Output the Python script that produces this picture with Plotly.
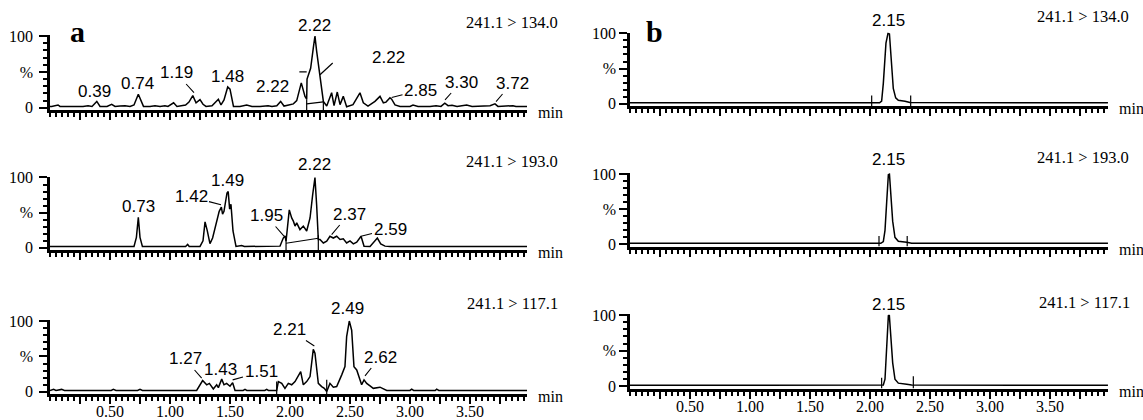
import plotly.graph_objects as go

W, H = 1143, 420
PX_PER_MIN = 120.0

# ---------------- data ----------------
# Panel a, 241.1 > 134.0
a1_t = [0.0,0.014,0.067,0.083,0.275,0.317,0.35,0.39,0.417,0.475,
        0.514,0.542,0.583,0.625,0.667,0.7,0.736,0.758,0.779,0.833,
        0.875,0.917,0.958,0.983,1.03,1.058,1.09,1.13,1.158,1.19,
        1.217,1.25,1.275,1.3,1.35,1.375,1.403,1.425,1.45,1.481,
        1.5,1.529,1.583,1.639,1.683,1.75,1.817,1.85,1.89,1.922,
        1.95,1.99,2.028,2.056,2.094,2.125,2.139,2.142,2.172,2.194,
        2.208,2.222,2.236,2.244,2.258,2.278,2.306,2.347,2.367,2.394,
        2.417,2.444,2.472,2.525,2.583,2.611,2.65,2.708,2.75,2.778,
        2.8,2.833,2.847,2.875,2.917,3.0,3.025,3.067,3.167,3.217,
        3.258,3.29,3.317,3.35,3.392,3.472,3.517,3.625,3.667,3.708,
        3.733,3.858,3.883,3.975]
a1_v = [2,2,4,2,2,3,2,9,2,2,
        5,2,2.5,3,2,4,19,10,2,2,
        3,2,3,2,7,2,3,4,8,17,
        7,11.5,5,2,3,7,12,4,11,29,
        26,2,2,4,2,2,3,2,3,9,
        2.5,4,5.5,10,34.7,16,12,40,55,83,
        100,79,60,48,28,9,2.5,21,3,22,
        4.5,16,1.5,4.5,21,7,2.5,9,16,7,
        8,14,12,4,2,2,4,2,2,3,
        2,6.5,3,3.5,2,4,2,2,3,5.5,
        2,3,2,2]

# Panel a, 241.1 > 193.0
a2_t = [0.0,0.1,0.13,0.16,0.42,0.45,0.5,0.55,0.58,0.7,
        0.72,0.736,0.75,0.77,1.13,1.147,1.16,1.25,1.275,1.292,
        1.31,1.333,1.355,1.39,1.41,1.428,1.438,1.45,1.475,1.485,
        1.497,1.508,1.525,1.55,1.597,1.62,1.917,1.944,1.958,1.967,
        1.994,2.014,2.028,2.042,2.056,2.083,2.111,2.139,2.167,2.189,
        2.208,2.222,2.236,2.25,2.278,2.306,2.333,2.361,2.389,2.417,
        2.444,2.472,2.5,2.528,2.556,2.592,2.617,2.667,2.728,2.756,
        2.792,2.833,3.975]
a2_v = [2,2,1,2,2,1,2,1,2,2,
        15,43.5,15,2,2,5,2,2,10,37,
        25,6,14,38,52,58,48,52,78,80,
        55,62,24,2,3.5,2,2.5,14,17,9.5,
        54,42.5,38,31,35.5,26,31,24,42.5,75.6,
        100,61,12,12,7,9.5,16.5,14,16.5,12,
        13,7,10,5.7,8,16.5,2.4,2,14,5.7,
        2.5,2,2]

# Panel a, 241.1 > 117.1
a3_t = [0.0,0.03,0.05,0.097,0.12,0.51,0.528,0.55,0.73,0.75,
        0.77,0.93,0.944,0.96,1.222,1.272,1.306,1.328,1.361,1.389,
        1.403,1.431,1.45,1.472,1.5,1.522,1.542,1.61,1.625,1.64,
        1.79,1.806,1.82,1.889,1.903,1.931,1.958,1.986,2.014,2.042,
        2.069,2.089,2.111,2.139,2.167,2.194,2.208,2.236,2.264,2.286,
        2.306,2.333,2.361,2.389,2.431,2.458,2.472,2.494,2.514,2.533,
        2.556,2.578,2.597,2.617,2.639,2.667,2.694,2.75,2.778,2.806,
        3.0,3.014,3.03,3.21,3.222,3.24,3.975]
a3_v = [2,3.5,2,3.5,2,2,3.5,2,2,3.5,
        2,2,3,2,2,16,10,12,4,10,
        6,18,10,12,8,13,2,2,3.5,2,
        2,3.5,2,2,14.5,12,5,12,10,14.5,
        21.6,28.6,10,14.5,21.6,60,54.5,12,7.5,5,
        0.5,12,6.6,7.5,24,35.6,78,100,87,35.6,
        31,19,10,17,12,8.5,5,6.6,3.8,2,
        2,3.8,2,2,3.8,2,2]

# Panel b (three transitions)
b1_t = [0.0,2.08,2.097,2.111,2.133,2.15,2.162,2.172,2.183,2.194,2.214,2.236,2.292,2.333,3.983]
b1_v = [1.5,1.5,4,29,86,100,99,76,48,22,8.5,5,3.7,2,1.5]
b2_t = [0.0,2.09,2.111,2.125,2.139,2.153,2.162,2.172,2.189,2.208,2.236,2.306,2.347,3.983]
b2_v = [1.5,1.5,4,20,60,99,100,78,33,10,4.5,3,1.8,1.5]
b3_t = [0.0,2.1,2.111,2.125,2.139,2.153,2.161,2.172,2.189,2.208,2.236,2.306,2.347,3.983]
b3_v = [1.5,1.5,1.8,10,55.6,99,100,78,33,10,4.5,3,1.8,1.5]

# integration marks (drop lines / baselines), None separates segments
a1_mark_t = [2.139,2.139,None,2.278,2.278,None,2.139,2.278,None,2.078,2.139,None,2.25,2.356]
a1_mark_v = [-3,12,None,-3,9,None,5.5,8.3,None,50,50,None,46,62.5]
a2_mark_t = [1.967,1.967,None,2.236,2.236,None,1.967,2.236]
a2_mark_v = [-3,16,None,-3,18,None,6.6,13.7]
a3_mark_t = [1.889,1.889,None,2.306,2.306]
a3_mark_v = [-3,14.5,None,-3,17]
b1_mark_t = [2.014,2.014,None,2.339,2.339]
b1_mark_v = [-3,12,None,-3,12]
b2_mark_t = [2.075,2.075,None,2.31,2.31]
b2_mark_v = [-3,12,None,-3,12]
b3_mark_t = [2.097,2.097,None,2.361,2.361]
b3_mark_v = [-3,12,None,-3,14]

# peak labels: text, peak time, peak intensity, has leader line
a1_lab_text = ["0.39","0.74","1.19","1.48","2.22","2.22","2.22","2.85","3.30","3.72"]
a1_lab_t = [0.39,0.736,1.2,1.481,2.094,2.208,2.208,2.847,3.292,3.717]
a1_lab_v = [9,19,21.3,29,34.7,100,100,14.3,11.1,8.75]
a1_lab_lead = [0,0,1,0,0,0,0,1,1,1]

a2_lab_text = ["0.73","1.42","1.49","1.95","2.22","2.37","2.59"]
a2_lab_t = [0.736,1.425,1.485,1.95,2.208,2.347,2.592]
a2_lab_v = [43.5,61.4,80,16.6,100,18.9,16.6]
a2_lab_lead = [0,1,0,1,0,1,1]

a3_lab_text = ["1.27","1.43","1.51","2.21","2.49","2.62"]
a3_lab_t = [1.264,1.431,1.522,2.203,2.494,2.625]
a3_lab_v = [19.3,18,16.9,64.8,100,22.5]
a3_lab_lead = [1,0,1,1,0,1]

b_lab_text = ["2.15"]
b_lab_t = [2.15]
b_lab_v = [100]
b_lab_lead = [0]

transitions = ["241.1 > 134.0", "241.1 > 193.0", "241.1 > 117.1"]
x_tick_vals = [0.25,0.5,0.75,1.0,1.25,1.5,1.75,2.0,2.25,2.5,2.75,3.0,3.25,3.5,3.75]
x_tick_text = ["","0.50","","1.00","","1.50","","2.00","","2.50","","3.00","","3.50",""]
y_tick_vals = [0, 50, 100]
y_tick_text = ["0", "%", "100"]

# ---------------- layout geometry (pixels) ----------------
A_LAB_POS = [(95,91),(137,84),(176,73),(227,76),(272,87),(315,25),(389,57.5),(420.5,90),(461,82),(512,83)]
A2_LAB_POS = [(138,207),(191,197),(228,181),(266,215.5),(315,165),(349,214),(390,229)]
A3_LAB_POS = [(185,359),(220.5,369.5),(261,372),(289,329.5),(348,308),(380,357)]

panels = [
    dict(t=a1_t, v=a1_v, mt=a1_mark_t, mv=a1_mark_v, lt=a1_lab_text, ltt=a1_lab_t, lv=a1_lab_v, ll=a1_lab_lead,
         pos=A_LAB_POS, x0=50, x1=527, ptop=36, paxis=110, tr=0, trpos=(560, 22), bottom=False, standoff=3),
    dict(t=a2_t, v=a2_v, mt=a2_mark_t, mv=a2_mark_v, lt=a2_lab_text, ltt=a2_lab_t, lv=a2_lab_v, ll=a2_lab_lead,
         pos=A2_LAB_POS, x0=50, x1=527, ptop=177.5, paxis=250, tr=1, trpos=(560, 162), bottom=False, standoff=3),
    dict(t=a3_t, v=a3_v, mt=a3_mark_t, mv=a3_mark_v, lt=a3_lab_text, ltt=a3_lab_t, lv=a3_lab_v, ll=a3_lab_lead,
         pos=A3_LAB_POS, x0=50, x1=527, ptop=321, paxis=394, tr=2, trpos=(560, 303), bottom=True, standoff=3),
    dict(t=b1_t, v=b1_v, mt=b1_mark_t, mv=b1_mark_v, lt=b_lab_text, ltt=b_lab_t, lv=b_lab_v, ll=b_lab_lead,
         pos=[(888,20)], x0=630, x1=1108, ptop=33.3, paxis=106, tr=0, trpos=(1131, 17), bottom=False, standoff=0),
    dict(t=b2_t, v=b2_v, mt=b2_mark_t, mv=b2_mark_v, lt=b_lab_text, ltt=b_lab_t, lv=b_lab_v, ll=b_lab_lead,
         pos=[(888,160)], x0=630, x1=1108, ptop=174, paxis=246.5, tr=1, trpos=(1131, 157), bottom=False, standoff=0),
    dict(t=b3_t, v=b3_v, mt=b3_mark_t, mv=b3_mark_v, lt=b_lab_text, ltt=b_lab_t, lv=b_lab_v, ll=b_lab_lead,
         pos=[(888,305)], x0=630, x1=1108, ptop=315, paxis=388.5, tr=2, trpos=(1132, 302), bottom=True, standoff=0),
]

SANS = "Liberation Sans, Arial, sans-serif"
SERIF = "Liberation Serif, Times New Roman, serif"

fig = go.Figure()
annotations = []
layout_axes = {}

for i, p in enumerate(panels, start=1):
    xs = "x" if i == 1 else f"x{i}"
    ys = "y" if i == 1 else f"y{i}"
    xk = "xaxis" if i == 1 else f"xaxis{i}"
    yk = "yaxis" if i == 1 else f"yaxis{i}"
    s = (p["paxis"] - p["ptop"]) / 103.0

    def px_of(t, p=p):
        return p["x0"] + t * PX_PER_MIN

    def py_of(v, p=p, s=s):
        return p["paxis"] - (v + 3) * s

    fig.add_trace(go.Scatter(x=p["t"], y=p["v"], xaxis=xs, yaxis=ys, mode="lines",
                             line=dict(color="black", width=1.5), hoverinfo="skip", showlegend=False))
    fig.add_trace(go.Scatter(x=p["mt"], y=p["mv"], xaxis=xs, yaxis=ys, mode="lines",
                             line=dict(color="black", width=1.2), hoverinfo="skip", showlegend=False,
                             connectgaps=False))

    # bottom-row tick labels sit just above the lower edge, as in the reference
    x_standoff = -6 if p["bottom"] else 0
    layout_axes[xk] = dict(
        domain=[p["x0"] / W, p["x1"] / W], range=[0, (p["x1"] - p["x0"]) / PX_PER_MIN],
        anchor=ys, showline=True, linewidth=3, linecolor="black", mirror=False, automargin=False,
        showgrid=False, zeroline=False, ticks="outside", ticklen=7, tickwidth=1.8, tickcolor="black",
        tickmode="array", tickvals=x_tick_vals,
        ticktext=x_tick_text if p["bottom"] else [""] * len(x_tick_vals),
        tickfont=dict(family=SERIF, size=16, color="black"), ticklabelstandoff=x_standoff,
        minor=dict(tickmode="linear", tick0=0, dtick=0.05, ticks="outside", ticklen=4,
                   tickwidth=1.5, tickcolor="black", showgrid=False),
        fixedrange=True,
    )
    layout_axes[yk] = dict(
        domain=[1 - p["paxis"] / H, 1 - (p["ptop"] - s) / H], range=[-3, 101],
        anchor=xs, showline=True, linewidth=2.5, linecolor="black", automargin=False,
        showgrid=False, zeroline=False, ticks="outside", ticklen=8, tickwidth=1.8, tickcolor="black",
        tickmode="array", tickvals=y_tick_vals, ticktext=y_tick_text,
        tickfont=dict(family=SERIF, size=16, color="black"), ticklabelstandoff=p["standoff"],
        minor=dict(tickmode="linear", tick0=0, dtick=10, ticks="outside", ticklen=4,
                   tickwidth=1.5, tickcolor="black", showgrid=False),
        fixedrange=True,
    )

    # peak labels
    for k, txt in enumerate(p["lt"]):
        ht, hv = p["ltt"][k], p["lv"][k]
        cx, cy = p["pos"][k]
        annotations.append(dict(
            x=ht, y=hv, xref=xs, yref=ys, text=txt, showarrow=True,
            ax=cx - px_of(ht), ay=cy - py_of(hv), axref="pixel", ayref="pixel",
            arrowhead=0, arrowwidth=1.1, standoff=0,
            arrowcolor="black" if p["ll"][k] else "rgba(0,0,0,0)",
            font=dict(family=SANS, size=17, color="black"), xanchor="center", yanchor="middle",
        ))

    # transition label
    rx, ry = p["trpos"]
    annotations.append(dict(x=rx / W, y=1 - ry / H, xref="paper", yref="paper", text=transitions[p["tr"]],
                            showarrow=False, xanchor="right", yanchor="middle",
                            font=dict(family=SERIF, size=16.5, color="black")))
    # "min" unit label
    annotations.append(dict(x=(p["x1"] + 9) / W, y=1 - (p["paxis"] + 2.5) / H, xref="paper", yref="paper",
                            text="min", showarrow=False, xanchor="left", yanchor="middle",
                            font=dict(family=SERIF, size=16, color="black")))

# panel letters
annotations.append(dict(x=77.5 / W, y=1 - 32 / H, xref="paper", yref="paper", text="<b>a</b>",
                        showarrow=False, xanchor="center", yanchor="middle",
                        font=dict(family=SERIF, size=30, color="black")))
annotations.append(dict(x=654 / W, y=1 - 32 / H, xref="paper", yref="paper", text="<b>b</b>",
                        showarrow=False, xanchor="center", yanchor="middle",
                        font=dict(family=SERIF, size=30, color="black")))

fig.update_layout(
    width=W, height=H, margin=dict(l=0, r=0, t=0, b=0, pad=0, autoexpand=False),
    paper_bgcolor="white", plot_bgcolor="white", showlegend=False,
    annotations=annotations, **layout_axes,
)

fig.write_html("out.html", config={"displayModeBar": False})
